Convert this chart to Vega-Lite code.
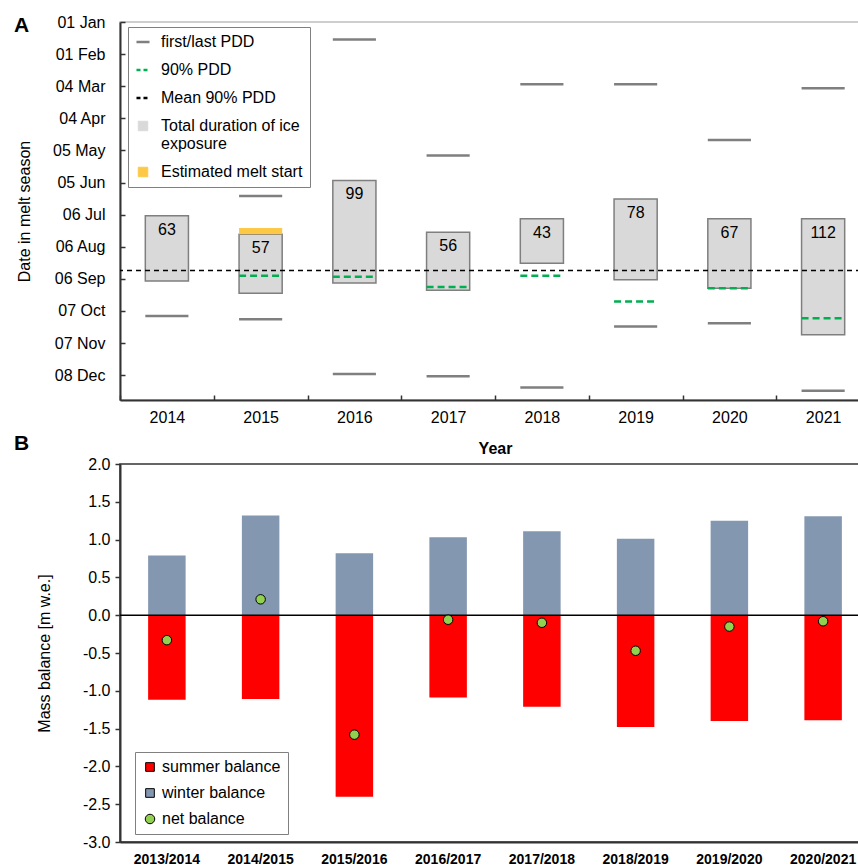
{
  "$schema": "https://vega.github.io/schema/vega-lite/v6.json",
  "padding": {"left": 13, "top": 13, "right": 0, "bottom": 0},
  "bounds": "flush",
  "spacing": 64,
  "resolve": {"scale": {"color": "independent"}, "legend": {"color": "independent"}},
  "config": {
    "font": "Liberation Sans",
    "view": {"stroke": null},
    "axis": {
      "labelFont": "Liberation Sans",
      "titleFont": "Liberation Sans",
      "labelColor": "#000000",
      "titleColor": "#000000",
      "grid": false,
      "labelOverlap": false,
      "domainColor": "#333333",
      "tickColor": "#333333"
    },
    "legend": {"labelFont": "Liberation Sans", "labelColor": "#000000"},
    "title": {"font": "Liberation Sans", "color": "#000000"}
  },
  "datasets": {
    "exposure": [
      {"year": 2014, "start": 187, "end": 250, "days": 63},
      {"year": 2015, "start": 205, "end": 262, "days": 57},
      {"year": 2016, "start": 153, "end": 252, "days": 99},
      {"year": 2017, "start": 203, "end": 259, "days": 56},
      {"year": 2018, "start": 190, "end": 233, "days": 43},
      {"year": 2019, "start": 171, "end": 249, "days": 78},
      {"year": 2020, "start": 190, "end": 257, "days": 67},
      {"year": 2021, "start": 190, "end": 302, "days": 112}
    ],
    "pdd": [
      {"year": 2014, "kind": "last", "day": 284},
      {"year": 2015, "kind": "first", "day": 168},
      {"year": 2015, "kind": "last", "day": 287},
      {"year": 2016, "kind": "first", "day": 17},
      {"year": 2016, "kind": "last", "day": 340},
      {"year": 2017, "kind": "first", "day": 129},
      {"year": 2017, "kind": "last", "day": 342},
      {"year": 2018, "kind": "first", "day": 60},
      {"year": 2018, "kind": "last", "day": 353},
      {"year": 2019, "kind": "first", "day": 60},
      {"year": 2019, "kind": "last", "day": 294},
      {"year": 2020, "kind": "first", "day": 114},
      {"year": 2020, "kind": "last", "day": 291},
      {"year": 2021, "kind": "first", "day": 64},
      {"year": 2021, "kind": "last", "day": 356}
    ],
    "pdd90": [
      {"year": 2015, "day": 245},
      {"year": 2016, "day": 246},
      {"year": 2017, "day": 256},
      {"year": 2018, "day": 245},
      {"year": 2019, "day": 270},
      {"year": 2020, "day": 257},
      {"year": 2021, "day": 286}
    ],
    "meltStart": [
      {"year": 2015, "from": 199, "to": 205}
    ],
    "meanPdd90": [
      {"day": 240}
    ],
    "balance": [
      {"season": "2013/2014", "type": "winter balance", "value": 0.79},
      {"season": "2013/2014", "type": "summer balance", "value": -1.12},
      {"season": "2014/2015", "type": "winter balance", "value": 1.32},
      {"season": "2014/2015", "type": "summer balance", "value": -1.11},
      {"season": "2015/2016", "type": "winter balance", "value": 0.82},
      {"season": "2015/2016", "type": "summer balance", "value": -2.40},
      {"season": "2016/2017", "type": "winter balance", "value": 1.03},
      {"season": "2016/2017", "type": "summer balance", "value": -1.09},
      {"season": "2017/2018", "type": "winter balance", "value": 1.11},
      {"season": "2017/2018", "type": "summer balance", "value": -1.21},
      {"season": "2018/2019", "type": "winter balance", "value": 1.01},
      {"season": "2018/2019", "type": "summer balance", "value": -1.48},
      {"season": "2019/2020", "type": "winter balance", "value": 1.25},
      {"season": "2019/2020", "type": "summer balance", "value": -1.40},
      {"season": "2020/2021", "type": "winter balance", "value": 1.31},
      {"season": "2020/2021", "type": "summer balance", "value": -1.39}
    ],
    "net": [
      {"season": "2013/2014", "net": -0.33},
      {"season": "2014/2015", "net": 0.21},
      {"season": "2015/2016", "net": -1.58},
      {"season": "2016/2017", "net": -0.06},
      {"season": "2017/2018", "net": -0.10},
      {"season": "2018/2019", "net": -0.47},
      {"season": "2019/2020", "net": -0.15},
      {"season": "2020/2021", "net": -0.08}
    ]
  },
  "vconcat": [
    {
      "width": 750,
      "height": 378,
      "title": {
        "text": "A", "anchor": "start", "frame": "group", "fontSize": 21, "fontWeight": "bold",
        "offset": 0, "baseline": "alphabetic", "dx": -106, "dy": 39
      },
      "view": {"stroke": "#bfbfbf", "strokeWidth": 1.5},
      "layer": [
        {
          "data": {"name": "exposure"},
          "mark": {"type": "bar", "width": {"band": 0.46}, "stroke": "#7f7f7f", "strokeWidth": 1.5, "opacity": 1},
          "encoding": {
            "x": {
              "field": "year", "type": "ordinal", "title": "Year",
              "scale": {"domain": [2014, 2015, 2016, 2017, 2018, 2019, 2020, 2021], "paddingInner": 0, "paddingOuter": 0},
              "axis": {
                "tickBand": "extent", "tickSize": -5, "tickWidth": 1.5, "labelPadding": 14, "labelAngle": 0,
                "labelFontSize": 16, "titleFontSize": 16, "titleFontWeight": "bold", "titlePadding": 15,
                "domainWidth": 2
              }
            },
            "y": {
              "field": "start", "type": "quantitative", "title": "Date in melt season",
              "scale": {"domain": [0, 365], "reverse": true, "nice": false, "zero": false},
              "axis": {
                "values": [0, 31, 62, 93, 124, 155, 186, 217, 248, 279, 310, 341],
                "tickCount": 40,
                "labelExpr": "timeFormat(datetime(2014, 0, 1 + datum.value), '%d %b')",
                "labelOverlap": false,
                "tickSize": -5, "tickWidth": 1.5, "labelPadding": 20, "labelFontSize": 16,
                "titleFontSize": 16, "titleFontWeight": "normal", "titlePadding": 20, "domainWidth": 2
              }
            },
            "y2": {"field": "end"},
            "color": {
              "datum": "Total duration of ice exposure",
              "scale": {
                "domain": ["first/last PDD", "90% PDD", "Mean 90% PDD", "Total duration of ice exposure", "Estimated melt start"],
                "range": ["#7f7f7f", "#00b050", "#000000", "#d9d9d9", "#fcc846"]
              },
              "legend": {
                "orient": "none", "legendX": 8, "legendY": 5, "title": null,
                "labelFontSize": 16, "labelLimit": 220, "labelOffset": 10,
                "strokeColor": "#808080", "fillColor": "#ffffff", "padding": 7, "rowPadding": 12,
                "labelExpr": "datum.label == 'Total duration of ice exposure' ? ['Total duration of ice', 'exposure'] : datum.label",
                "symbolOpacity": 1,
                "symbolType": {"expr": "datum.value == 'Total duration of ice exposure' || datum.value == 'Estimated melt start' ? 'square' : 'stroke'"},
                "symbolSize": {"expr": "datum.value == 'Total duration of ice exposure' || datum.value == 'Estimated melt start' ? 90 : 170"},
                "symbolDash": {"expr": "datum.value == '90% PDD' || datum.value == 'Mean 90% PDD' ? [4, 3] : [1, 0]"},
                "symbolStrokeWidth": {"expr": "datum.value == 'Total duration of ice exposure' || datum.value == 'Estimated melt start' ? 1 : 2.5"}
              }
            }
          }
        },
        {
          "data": {"name": "meltStart"},
          "mark": {"type": "bar", "width": {"band": 0.46}, "opacity": 1},
          "encoding": {
            "x": {"field": "year", "type": "ordinal"},
            "y": {"field": "from", "type": "quantitative", "title": "Date in melt season"},
            "y2": {"field": "to"},
            "color": {"datum": "Estimated melt start"}
          }
        },
        {
          "data": {"name": "pdd"},
          "mark": {"type": "rule", "strokeWidth": 2.5},
          "encoding": {
            "x": {"field": "year", "type": "ordinal", "bandPosition": 0.27},
            "x2": {"field": "year", "bandPosition": 0.73},
            "y": {"field": "day", "type": "quantitative", "title": "Date in melt season"},
            "color": {"datum": "first/last PDD"}
          }
        },
        {
          "data": {"name": "pdd90"},
          "mark": {"type": "rule", "strokeWidth": 2.5, "strokeDash": [7, 4]},
          "encoding": {
            "x": {"field": "year", "type": "ordinal", "bandPosition": 0.27},
            "x2": {"field": "year", "bandPosition": 0.73},
            "y": {"field": "day", "type": "quantitative", "title": "Date in melt season"},
            "color": {"datum": "90% PDD"}
          }
        },
        {
          "data": {"name": "meanPdd90"},
          "mark": {"type": "rule", "strokeWidth": 1.5, "strokeDash": [5, 4]},
          "encoding": {
            "y": {"field": "day", "type": "quantitative", "title": "Date in melt season"},
            "color": {"datum": "Mean 90% PDD"}
          }
        },
        {
          "data": {"name": "exposure"},
          "mark": {"type": "text", "fontSize": 16, "baseline": "middle", "dy": 14, "color": "#000000"},
          "encoding": {
            "x": {"field": "year", "type": "ordinal"},
            "y": {"field": "start", "type": "quantitative", "title": "Date in melt season"},
            "text": {"field": "days", "type": "quantitative"}
          }
        }
      ]
    },
    {
      "width": 750,
      "height": 378,
      "title": {
        "text": "B", "anchor": "start", "frame": "group", "fontSize": 21, "fontWeight": "bold",
        "offset": 0, "baseline": "alphabetic", "dx": -106, "dy": 15
      },
      "view": {"stroke": "#333333", "strokeWidth": 1.5},
      "layer": [
        {
          "data": {"name": "balance"},
          "mark": {"type": "bar", "width": {"band": 0.4}, "opacity": 1},
          "encoding": {
            "x": {
              "field": "season", "type": "ordinal", "title": null,
              "scale": {"paddingInner": 0, "paddingOuter": 0},
              "axis": {
                "ticks": false, "labelPadding": 10, "labelAngle": 0, "labelFontSize": 14,
                "labelFontWeight": "bold", "domainWidth": 2
              }
            },
            "y": {
              "field": "value", "type": "quantitative", "stack": null, "title": "Mass balance [m w.e.]",
              "scale": {"domain": [-3, 2], "nice": false, "zero": false},
              "axis": {
                "values": [-3, -2.5, -2, -1.5, -1, -0.5, 0, 0.5, 1, 1.5, 2],
                "tickCount": 40,
                "labelExpr": "replace(format(datum.value, '.1f'), '\u2212', '-')",
                "labelOverlap": false,
                "tickSize": 5, "tickWidth": 1.5, "labelPadding": 5, "labelFontSize": 16,
                "titleFontSize": 16, "titleFontWeight": "normal", "titlePadding": 30, "domainWidth": 2
              }
            },
            "color": {
              "field": "type", "type": "nominal",
              "scale": {
                "domain": ["summer balance", "winter balance", "net balance"],
                "range": ["#ff0000", "#8497b0", "#92d050"]
              },
              "legend": {
                "orient": "none", "legendX": 15, "legendY": 288, "title": null,
                "labelFontSize": 16, "labelOffset": 4, "labelLimit": 200,
                "strokeColor": "#808080", "fillColor": "#ffffff", "padding": 7, "rowPadding": 10,
                "symbolOpacity": 1,
                "symbolType": {"expr": "datum.value == 'net balance' ? 'circle' : 'square'"},
                "symbolSize": {"expr": "datum.value == 'net balance' ? 90 : 75"},
                "symbolStrokeColor": {"expr": "datum.value == 'net balance' ? '#000000' : 'transparent'"},
                "symbolStrokeWidth": 1
              }
            }
          }
        },
        {
          "data": {"values": [{"level": 0}]},
          "mark": {"type": "rule", "color": "#000000", "strokeWidth": 1.5},
          "encoding": {
            "y": {"field": "level", "type": "quantitative", "title": "Mass balance [m w.e.]"}
          }
        },
        {
          "data": {"name": "net"},
          "mark": {"type": "point", "filled": true, "shape": "circle", "size": 90, "stroke": "#000000", "strokeWidth": 1, "opacity": 1},
          "encoding": {
            "x": {"field": "season", "type": "ordinal"},
            "y": {"field": "net", "type": "quantitative", "title": "Mass balance [m w.e.]"},
            "color": {"datum": "net balance"}
          }
        }
      ]
    }
  ]
}
